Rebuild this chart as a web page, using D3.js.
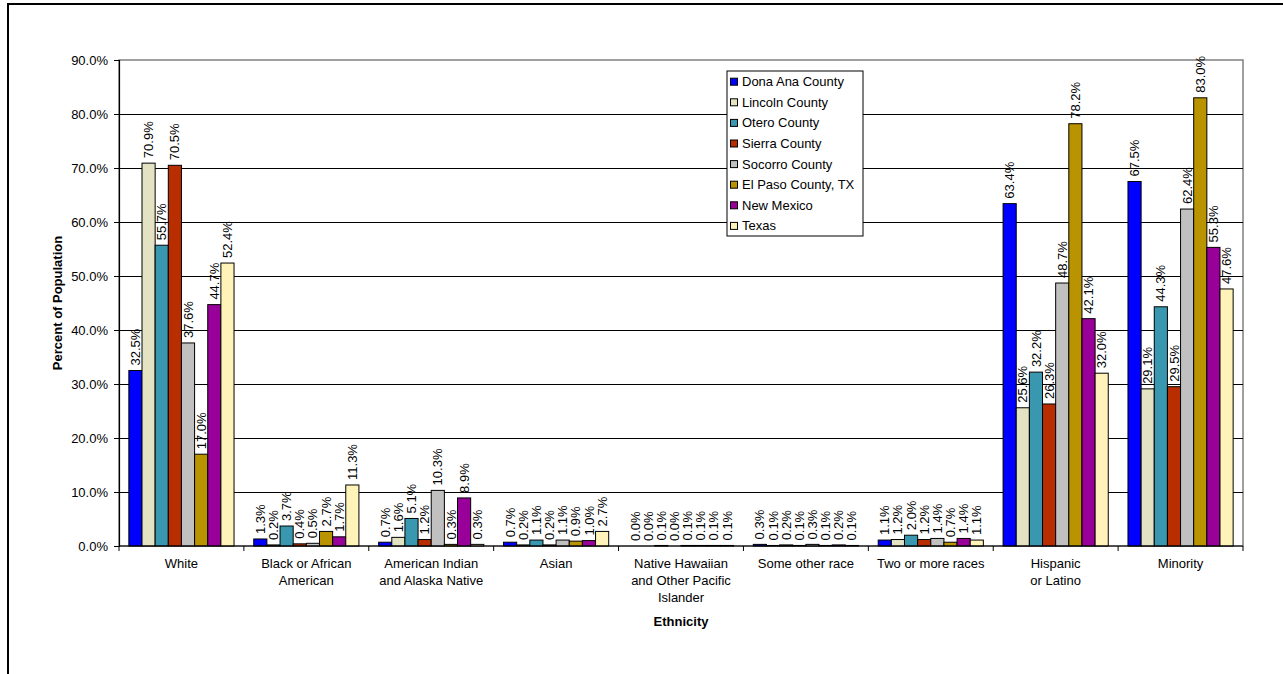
<!DOCTYPE html>
<html>
<head>
<meta charset="utf-8">
<script src="https://cdn.jsdelivr.net/npm/d3@7"></script>
<style>
  html, body { margin: 0; padding: 0; background: #fff; }
  svg { display: block; font-family: Arial, "Liberation Sans", sans-serif; }
</style>
</head>
<body>
<svg id="chart" width="1283" height="674"></svg>
<script>
// Population share by race/ethnicity, percent
const categories = [
  "White",
  "Black or African\nAmerican",
  "American Indian\nand Alaska Native",
  "Asian",
  "Native Hawaiian\nand Other Pacific\nIslander",
  "Some other race",
  "Two or more races",
  "Hispanic\nor Latino",
  "Minority"
];
const seriesNames = [
  "Dona Ana County", "Lincoln County", "Otero County", "Sierra County",
  "Socorro County", "El Paso County, TX", "New Mexico", "Texas"
];
const seriesColors = [
  "#0000ff", "#e3e3c4", "#3a97b0", "#b82e00",
  "#c0c0c0", "#b99300", "#990099", "#fff3b9"
];
// values[series][category]
const donaAna  = [32.5, 1.3, 0.7, 0.7, 0.0, 0.3, 1.1, 63.4, 67.5];
const lincoln  = [70.9, 0.2, 1.6, 0.2, 0.0, 0.1, 1.2, 25.6, 29.1];
const otero    = [55.7, 3.7, 5.1, 1.1, 0.1, 0.2, 2.0, 32.2, 44.3];
const sierra   = [70.5, 0.4, 1.2, 0.2, 0.0, 0.1, 1.2, 26.3, 29.5];
const socorro  = [37.6, 0.5, 10.3, 1.1, 0.1, 0.3, 1.4, 48.7, 62.4];
const elPaso   = [17.0, 2.7, 0.3, 0.9, 0.1, 0.1, 0.7, 78.2, 83.0];
const newMex   = [44.7, 1.7, 8.9, 1.0, 0.1, 0.2, 1.4, 42.1, 55.3];
const texas    = [52.4, 11.3, 0.3, 2.7, 0.1, 0.1, 1.1, 32.0, 47.6];
const seriesValues = [donaAna, lincoln, otero, sierra, socorro, elPaso, newMex, texas];
const yTicks = [0, 10, 20, 30, 40, 50, 60, 70, 80, 90];

const svg = d3.select("#chart");
const plot = { left: 119, right: 1243, top: 60, bottom: 546 };

// outer chart frame
svg.append("rect")
  .attr("x", 8).attr("y", 4)
  .attr("width", 1400).attr("height", 800)
  .attr("fill", "#fff").attr("stroke", "#000").attr("stroke-width", 2);

const x0 = d3.scaleBand().domain(categories).range([plot.left, plot.right])
  .paddingInner(0).paddingOuter(0);
const x1 = d3.scaleBand().domain(seriesNames).range([0, x0.bandwidth()])
  .paddingInner(0).paddingOuter(0.75);
const y = d3.scaleLinear().domain([0, 90]).range([plot.bottom, plot.top]);

// plot area border
svg.append("rect")
  .attr("x", plot.left).attr("y", plot.top)
  .attr("width", plot.right - plot.left).attr("height", plot.bottom - plot.top)
  .attr("fill", "#fff").attr("stroke", "#808080").attr("stroke-width", 1.5);

// horizontal gridlines
svg.append("g").selectAll("line")
  .data(yTicks.filter(t => t > 0 && t < 90))
  .join("line")
  .attr("x1", plot.left).attr("x2", plot.right)
  .attr("y1", d => Math.round(y(d)) + 0.5).attr("y2", d => Math.round(y(d)) + 0.5)
  .attr("stroke", "#000").attr("stroke-width", 1);

// y axis
const yAxis = d3.axisLeft(y).tickValues(yTicks).tickSize(5).tickPadding(6)
  .tickFormat(d => d.toFixed(1) + "%");
const gy = svg.append("g").attr("transform", `translate(${plot.left},0)`).call(yAxis);
gy.select(".domain").attr("stroke", "#000").attr("stroke-width", 1.2);
gy.selectAll(".tick line").attr("stroke", "#000");
gy.selectAll(".tick text").attr("font-size", 13).attr("fill", "#000")
  .attr("font-family", "Arial, 'Liberation Sans', sans-serif");

// bars
const groups = svg.append("g").selectAll("g")
  .data(categories)
  .join("g")
  .attr("transform", d => `translate(${x0(d)},0)`);

groups.selectAll("rect")
  .data((c, ci) => seriesNames.map((s, si) => ({ s, si, v: seriesValues[si][ci] })))
  .join("rect")
  .attr("x", d => x1(d.s))
  .attr("y", d => y(d.v))
  .attr("width", x1.bandwidth())
  .attr("height", d => y(0) - y(d.v))
  .attr("fill", d => seriesColors[d.si])
  .attr("stroke", "#000").attr("stroke-width", 1);

// value labels, rotated above each bar
groups.selectAll("text")
  .data((c, ci) => seriesNames.map((s, si) => ({ s, si, v: seriesValues[si][ci] })))
  .join("text")
  .attr("transform", d => `translate(${x1(d.s) + x1.bandwidth() / 2},${y(d.v) - 5}) rotate(-90)`)
  .attr("dy", "0.35em")
  .attr("font-size", 13)
  .attr("fill", "#000")
  .text(d => d.v.toFixed(1) + "%");

// x axis line and category separators
svg.append("line")
  .attr("x1", plot.left).attr("x2", plot.right)
  .attr("y1", plot.bottom).attr("y2", plot.bottom)
  .attr("stroke", "#000").attr("stroke-width", 1.2);
svg.append("g").selectAll("line")
  .data(d3.range(categories.length + 1))
  .join("line")
  .attr("x1", i => plot.left + i * x0.step()).attr("x2", i => plot.left + i * x0.step())
  .attr("y1", plot.bottom).attr("y2", plot.bottom + 5)
  .attr("stroke", "#000");

// category labels
const catLabels = svg.append("g").selectAll("text")
  .data(categories)
  .join("text")
  .attr("x", d => x0(d) + x0.bandwidth() / 2)
  .attr("y", plot.bottom + 22)
  .attr("text-anchor", "middle")
  .attr("font-size", 13)
  .attr("fill", "#000");
catLabels.selectAll("tspan")
  .data(d => d.split("\n"))
  .join("tspan")
  .attr("x", function () { return d3.select(this.parentNode).attr("x"); })
  .attr("dy", (d, i) => i === 0 ? 0 : 17)
  .text(d => d);

// axis titles
svg.append("text")
  .attr("x", (plot.left + plot.right) / 2)
  .attr("y", 626)
  .attr("text-anchor", "middle")
  .attr("font-size", 13).attr("font-weight", "bold")
  .text("Ethnicity");
svg.append("text")
  .attr("transform", `translate(62,${(plot.top + plot.bottom) / 2}) rotate(-90)`)
  .attr("text-anchor", "middle")
  .attr("font-size", 13).attr("font-weight", "bold")
  .text("Percent of Population");

// legend
const legend = svg.append("g");
legend.append("rect")
  .attr("x", 727).attr("y", 71)
  .attr("width", 136).attr("height", 165)
  .attr("fill", "#fff").attr("stroke", "#000").attr("stroke-width", 1);
const items = legend.selectAll("g.item")
  .data(seriesNames)
  .join("g")
  .attr("class", "item")
  .attr("transform", (d, i) => `translate(0,${81.7 + i * 20.6})`);
items.append("rect")
  .attr("x", 730.5).attr("y", -3.5)
  .attr("width", 7).attr("height", 7)
  .attr("fill", (d, i) => seriesColors[i])
  .attr("stroke", "#000").attr("stroke-width", 1);
items.append("text")
  .attr("x", 742).attr("dy", "0.35em")
  .attr("font-size", 13).attr("fill", "#000")
  .text(d => d);
</script>
</body>
</html>
